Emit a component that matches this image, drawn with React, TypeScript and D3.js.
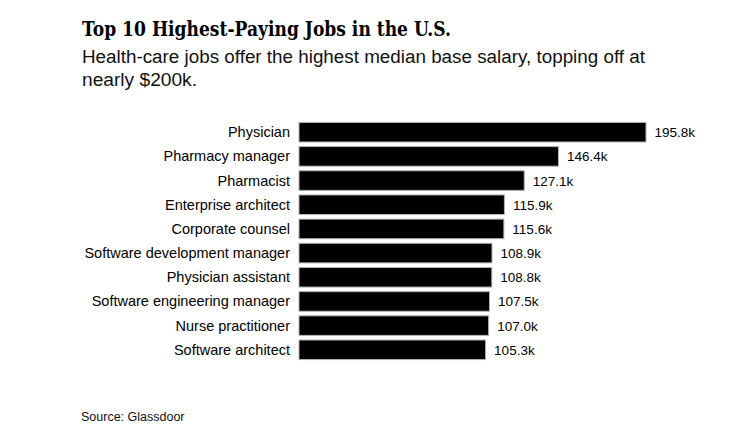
import React from 'react';
import * as d3 from 'd3';

const jobs = [
  'Physician',
  'Pharmacy manager',
  'Pharmacist',
  'Enterprise architect',
  'Corporate counsel',
  'Software development manager',
  'Physician assistant',
  'Software engineering manager',
  'Nurse practitioner',
  'Software architect',
];
const salaries = [195.8, 146.4, 127.1, 115.9, 115.6, 108.9, 108.8, 107.5, 107.0, 105.3];

const W = 748, H = 441;

export default function App() {
  // bar area: left edge at 299, Physician bar ends near 646
  const x = d3.scaleLinear().domain([0, 195.8]).range([299, 646]);
  const y = d3.scaleBand<string>()
    .domain(jobs)
    .range([120, 362])
    .paddingInner(0.19)
    .paddingOuter(0.1);

  const sans = 'Liberation Sans, Arial, sans-serif';

  return (
    <svg
      width={W}
      height={H}
      style={{ position: 'absolute', left: 0, top: 0, background: '#fff' }}
    >
      <text
        x={82}
        y={36}
        fontFamily="DejaVu Serif, Georgia, serif"
        fontWeight="bold"
        fontSize={20}
        textLength={369}
        lengthAdjust="spacingAndGlyphs"
        fill="#000"
      >
        Top 10 Highest-Paying Jobs in the U.S.
      </text>
      <text x={82} y={63} fontFamily={sans} fontSize={18} fill="#111"
        textLength={563} lengthAdjust="spacingAndGlyphs">
        Health-care jobs offer the highest median base salary, topping off at
      </text>
      <text x={82} y={86} fontFamily={sans} fontSize={18} fill="#111"
        textLength={115} lengthAdjust="spacingAndGlyphs">
        nearly $200k.
      </text>

      {jobs.map((job, i) => {
        const yy = y(job)!;
        const bh = y.bandwidth();
        return (
          <g key={job}>
            <text
              x={290}
              y={yy + bh / 2 + 5}
              textAnchor="end"
              fontFamily={sans}
              fontSize={14.5}
              fill="#000"
            >
              {job}
            </text>
            <rect
              x={x(0)}
              y={yy}
              width={x(salaries[i]) - x(0)}
              height={bh}
              fill="#000"
              stroke="#b4b4b4"
              strokeWidth={1}
            />
            <text
              x={x(salaries[i]) + 8.5}
              y={yy + bh / 2 + 5}
              fontFamily={sans}
              fontSize={13.5}
              fill="#000"
            >
              {salaries[i].toFixed(1)}k
            </text>
          </g>
        );
      })}

      <text x={81} y={421} fontFamily={sans} fontSize={12.5} fill="#111">
        Source: Glassdoor
      </text>
    </svg>
  );
}
